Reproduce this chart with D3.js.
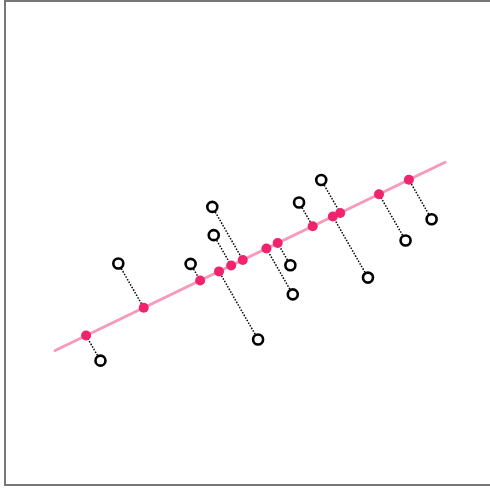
<!DOCTYPE html>
<html>
<head>
<meta charset="utf-8">
<script src="https://cdn.jsdelivr.net/npm/d3@7"></script>
<style>
  html, body { margin: 0; padding: 0; background: #fff; }
</style>
</head>
<body>
<script>
// data points (open circles)
const pointX = [-3.04, -2.67, -1.17, -0.72, -0.69, 0.23, 0.90, 0.95, 1.08, 1.54, 2.51, 3.29, 3.83];
const pointY = [-2.64, -0.44, -0.45, 0.84, 0.20, -2.16, -0.48, -1.14, 0.94, 1.45, -0.76, 0.08, 0.56];

// fitted line end points
const lineX = [-3.98, 4.11];
const lineY = [-2.41, 1.85];

const width = 490;
const height = 490;

const svg = d3.select("body")
              .append("svg")
              .attr("width", width)
              .attr("height", height);

// frame
svg.append("rect")
   .attr("x", 5)
   .attr("y", 1)
   .attr("width", 490)
   .attr("height", 484)
   .attr("fill", "none")
   .attr("stroke", "#777")
   .attr("stroke-width", 2);

// scales
const xScale = d3.scaleLinear().domain([-5, 5]).range([6, 488]);
const yScale = d3.scaleLinear().domain([-5.5, 5.5]).range([487, 1]);

// project each point onto the line (in data space)
const dx = lineX[1] - lineX[0], dy = lineY[1] - lineY[0];
const len2 = dx * dx + dy * dy;
const points = pointX.map((x, i) => {
    const y = pointY[i];
    const t = ((x - lineX[0]) * dx + (y - lineY[0]) * dy) / len2;
    return {x: x, y: y, px: lineX[0] + t * dx, py: lineY[0] + t * dy};
});

// ============ line =============
svg.append("line")
   .attr("x1", xScale(lineX[0])).attr("y1", yScale(lineY[0]))
   .attr("x2", xScale(lineX[1])).attr("y2", yScale(lineY[1]))
   .attr("stroke", "#f799b8")
   .attr("stroke-width", 3)
   .attr("stroke-linecap", "round");

// ============ dotted connectors =============
svg.selectAll("line.link")
   .data(points).enter()
   .append("line")
   .attr("class", "link")
   .attr("x1", d => xScale(d.x)).attr("y1", d => yScale(d.y))
   .attr("x2", d => xScale(d.px)).attr("y2", d => yScale(d.py))
   .attr("stroke", "#000")
   .attr("stroke-width", 1.5)
   .attr("stroke-dasharray", "1.5,1.5");

// ============ projections =============
svg.selectAll("circle.proj")
   .data(points).enter()
   .append("circle")
   .attr("class", "proj")
   .attr("cx", d => xScale(d.px))
   .attr("cy", d => yScale(d.py))
   .attr("r", 5)
   .attr("fill", "#f0246e");

// ============ data points =============
svg.selectAll("circle.pt")
   .data(points).enter()
   .append("circle")
   .attr("class", "pt")
   .attr("cx", d => xScale(d.x))
   .attr("cy", d => yScale(d.y))
   .attr("r", 5)
   .attr("fill", "#fff")
   .attr("stroke", "#000")
   .attr("stroke-width", 2.6);
</script>
</body>
</html>
